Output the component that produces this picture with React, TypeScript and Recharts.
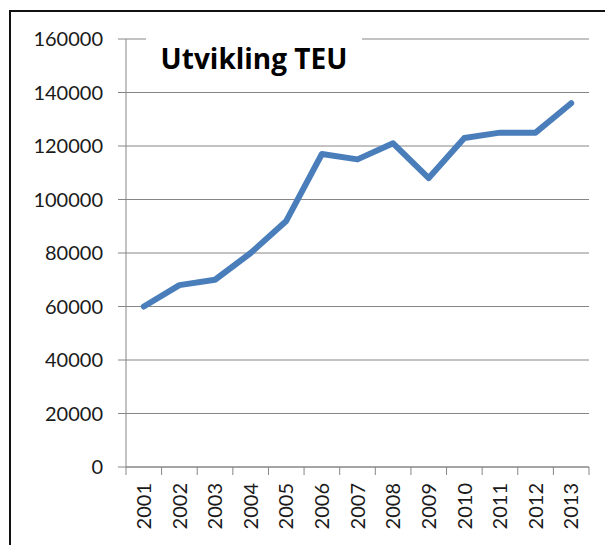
import React from 'react';
import { LineChart, Line, XAxis, YAxis, CartesianGrid } from 'recharts';

const years = ['2001', '2002', '2003', '2004', '2005', '2006', '2007', '2008', '2009', '2010', '2011', '2012', '2013'];
const teu = [60000, 68000, 70000, 80000, 92000, 117000, 115000, 121000, 108000, 123000, 125000, 125000, 136000];
const yTicks = [0, 20000, 40000, 60000, 80000, 100000, 120000, 140000, 160000];

const data = years.map((year, i) => ({ year, teu: teu[i] }));

const AXIS_GRAY = '#868686';

function YearTick(props: any) {
  const { x, y, payload, index } = props;
  const half = payload?.offset ?? 17.8;
  const top = y - 8;
  return (
    <g>
      <line x1={x - half} x2={x - half} y1={top} y2={top + 8} stroke={AXIS_GRAY} strokeWidth={1} />
      {index === years.length - 1 && (
        <line x1={x + half} x2={x + half} y1={top} y2={top + 8} stroke={AXIS_GRAY} strokeWidth={1} />
      )}
      <text
        x={x}
        y={top + 16}
        dy="0.36em"
        transform={`rotate(-90, ${x}, ${top + 16})`}
        textAnchor="end"
        fontFamily="Lato, sans-serif"
        fontSize={20}
        fill="#1a1a1a"
      >
        {payload.value}
      </text>
    </g>
  );
}

export default function App() {
  return (
    <div style={{ position: 'absolute', left: 0, top: 0, width: 605, height: 545, overflow: 'hidden', background: '#fff' }}>
      <div
        style={{
          position: 'absolute',
          left: 9,
          top: 10,
          width: 700,
          height: 700,
          border: '2px solid #111',
          boxSizing: 'border-box',
        }}
      />
      <div style={{ position: 'absolute', left: 0, top: 0 }}>
        <LineChart width={605} height={545} data={data} margin={{ top: 39, right: 16, bottom: 0, left: 0 }}>
          <CartesianGrid vertical={false} stroke={AXIS_GRAY} strokeWidth={1} />
          <XAxis
            dataKey="year"
            scale="band"
            height={78}
            stroke={AXIS_GRAY}
            tickLine={false}
            tickSize={8}
            tickMargin={0}
            interval={0}
            tick={<YearTick />}
          />
          <YAxis
            width={126}
            domain={[0, 160000]}
            ticks={yTicks}
            interval={0}
            stroke={AXIS_GRAY}
            tickSize={8}
            tickMargin={15}
            tick={{ fontFamily: 'Lato, sans-serif', fontSize: 20, fill: '#1a1a1a' }}
          />
          <Line
            type="linear"
            dataKey="teu"
            stroke="#4a7ebb"
            strokeWidth={6}
            dot={false}
            strokeLinejoin="round"
            strokeLinecap="round"
            isAnimationActive={false}
          />
        </LineChart>
      </div>
      <div
        style={{
          position: 'absolute',
          left: 146,
          top: 30,
          width: 216,
          height: 56,
          background: '#fff',
          display: 'flex',
          alignItems: 'center',
          justifyContent: 'center',
          fontFamily: '"Open Sans", sans-serif',
          fontWeight: 700,
          fontSize: 28,
          color: '#000',
          whiteSpace: 'nowrap',
        }}
      >
        Utvikling TEU
      </div>
    </div>
  );
}
